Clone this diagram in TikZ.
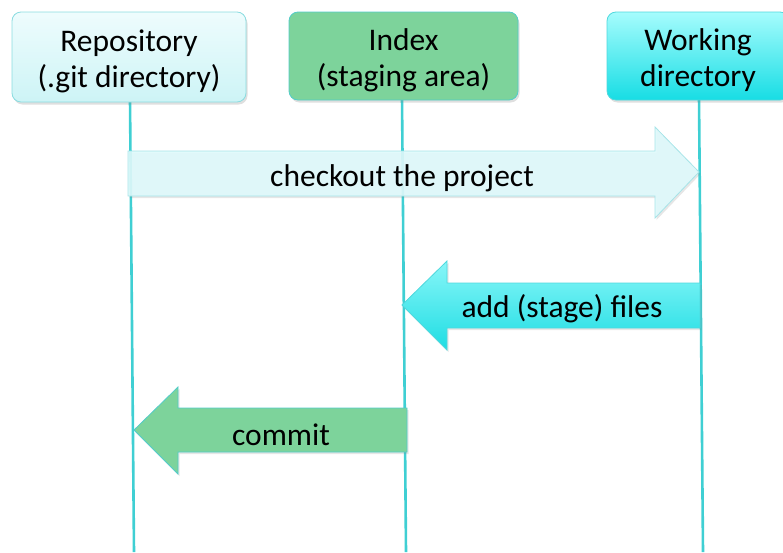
\documentclass[tikz,border=0pt]{standalone}
\usepackage{fontspec}
\setmainfont{Carlito}
\usetikzlibrary{shadows}
\definecolor{lifeline}{HTML}{3FCFD3}
\definecolor{repotop}{HTML}{EEFCFD}
\definecolor{repobot}{HTML}{CDF4F6}
\definecolor{repoborder}{HTML}{8ADCE0}
\definecolor{idxfill}{HTML}{7DD39B}
\definecolor{idxborder}{HTML}{52CCC9}
\definecolor{wdtop}{HTML}{A6FCFD}
\definecolor{wdbot}{HTML}{17DDE4}
\definecolor{wdborder}{HTML}{4FD8DD}
\definecolor{cofill}{HTML}{DFF9FB}
\definecolor{coborder}{HTML}{A6E4E8}
\definecolor{addtop}{HTML}{88F6F8}
\definecolor{addbot}{HTML}{1EDDE3}
\newcommand{\topstrut}{\rule{0pt}{30pt}}
\begin{document}
\begin{tikzpicture}[x=1pt,y=-1pt]
\useasboundingbox (0,0) rectangle (783,552);
\tikzset{
  box/.style={rounded corners=9pt, line width=0.8pt, align=center,
    font=\fontsize{31.5}{36}\selectfont, inner sep=0pt,
    drop shadow={shadow xshift=1.5pt, shadow yshift=-2.5pt, opacity=0.25}},
  life/.style={draw=lifeline, line width=2.6pt},
  arrowshape/.style={line width=0.8pt,
    drop shadow={shadow xshift=1.5pt, shadow yshift=-2pt, opacity=0.2}},
  lbl/.style={font=\fontsize{31.5}{36}\selectfont, inner sep=0pt}
}
% lifeline ends
\coordinate (rb) at (134,552);
\coordinate (ib) at (406,552);
\coordinate (wb) at (703,552);
\coordinate (rt) at (130,100);
\coordinate (it) at (402,98);
\coordinate (wt) at (699,98);
\draw[life] (rt) -- (rb);
\draw[life] (it) -- (ib);
\draw[life] (wt) -- (wb);
% arrows
\path[arrowshape, fill=cofill, draw=coborder, fill opacity=0.9]
  (128,151) -- (655,151) -- (655,127) -- (699,172) -- (655,218) -- (655,196) -- (128,196) -- cycle;
\path[arrowshape, top color=addtop, bottom color=addbot, draw=wdborder]
  (700,283) -- (447,283) -- (447,261) -- (402,305) -- (447,350) -- (447,328) -- (700,328) -- cycle;
\path[arrowshape, fill=idxfill, draw=idxborder]
  (407,408) -- (178,408) -- (178,387) -- (134,430) -- (178,474) -- (178,452) -- (407,452) -- cycle;
\node[lbl] (co) at (402,178) {checkout the project};
\node[lbl] (add) at (562,309) {add (stage) files};
\node[lbl] (cm) at (281,435) {commit};
% boxes
\node[box, top color=repotop, bottom color=repobot, draw=repoborder,
  minimum width=234pt, minimum height=90pt] (repo) at (129,57)
  {\topstrut Repository\\(.git directory)};
\node[box, fill=idxfill, draw=idxborder,
  minimum width=229pt, minimum height=88pt] (idx) at (403.5,56)
  {\topstrut Index\\(staging area)};
\node[box, top color=wdtop, bottom color=wdbot, draw=wdborder,
  minimum width=182pt, minimum height=88pt] (wd) at (698,56)
  {\topstrut Working\\directory};
\end{tikzpicture}
\end{document}
